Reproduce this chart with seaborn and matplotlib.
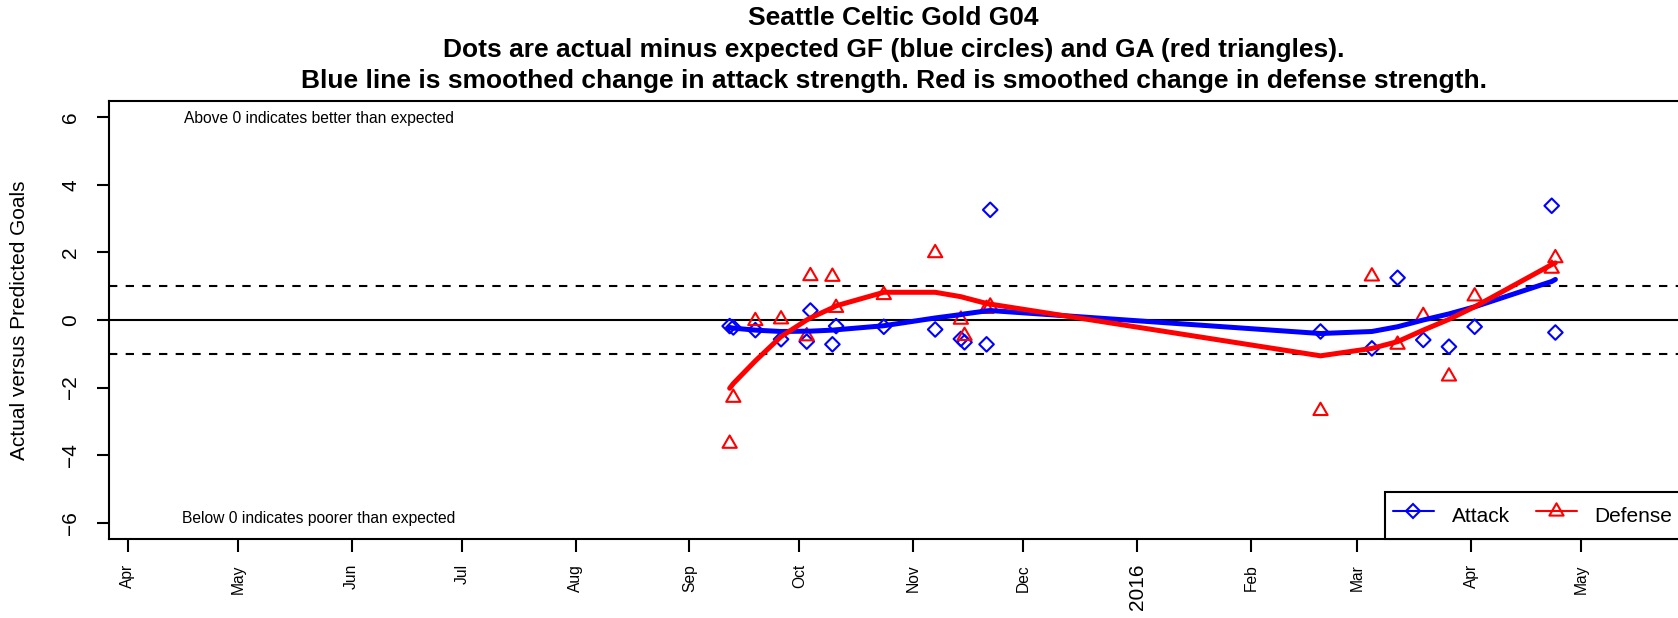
import numpy as np
import pandas as pd
import matplotlib
matplotlib.use("Agg")
import matplotlib.pyplot as plt
import seaborn as sns
from matplotlib.lines import Line2D
from matplotlib.path import Path

# games (weekend dates of the 2015/16 season)
game_dates = pd.to_datetime([
    "2015-09-12", "2015-09-13", "2015-09-19", "2015-09-26", "2015-10-03",
    "2015-10-04", "2015-10-10", "2015-10-11", "2015-10-24", "2015-11-07",
    "2015-11-14", "2015-11-15", "2015-11-21", "2015-11-22", "2016-02-20",
    "2016-03-05", "2016-03-12", "2016-03-19", "2016-03-26", "2016-04-02",
    "2016-04-23", "2016-04-24",
])
attack_resid = [-0.18, -0.22, -0.30, -0.57, -0.64, 0.28, -0.72, -0.18, -0.20, -0.28, -0.56,
                -0.66, -0.72, 3.26, -0.34, -0.84, 1.25, -0.59, -0.79, -0.20, 3.38, -0.37]
defense_resid = [-3.66, -2.30, -0.03, 0.02, -0.48, 1.30, 1.28, 0.36, 0.74, 1.98, 0.01,
                 -0.47, 0.33, 0.40, -2.69, 1.29, -0.73, 0.12, -1.67, 0.70, 1.52, 1.83]
attack_smooth = [-0.22, -0.24, -0.30, -0.34, -0.33, -0.33, -0.30, -0.29, -0.17, 0.06, 0.16,
                 0.18, 0.27, 0.28, -0.40, -0.34, -0.20, 0.00, 0.18, 0.39, 1.14, 1.20]
defense_smooth = [-2.02, -1.88, -1.21, -0.49, 0.00, 0.06, 0.36, 0.42, 0.82, 0.82, 0.69,
                  0.66, 0.49, 0.47, -1.06, -0.84, -0.64, -0.30, 0.02, 0.39, 1.64, 1.69]

month_ticks = pd.date_range("2015-04-01", "2016-05-01", freq="MS")
month_labels = ["Apr", "May", "Jun", "Jul", "Aug", "Sep", "Oct", "Nov", "Dec",
                "2016", "Feb", "Mar", "Apr", "May"]
y_ticks = [-6, -4, -2, 0, 2, 4, 6]

title_lines = [
    "Seattle Celtic Gold G04",
    "Dots are actual minus expected GF (blue circles) and GA (red triangles).",
    "Blue line is smoothed change in attack strength. Red is smoothed change in defense strength.",
]

df = pd.DataFrame({"date": game_dates, "attack": attack_resid, "defense": defense_resid,
                   "att_s": attack_smooth, "def_s": defense_smooth})

sns.set_style("ticks")
plt.rcParams["font.family"] = ["Liberation Sans", "DejaVu Sans"]
for key in ("text.color", "axes.labelcolor", "xtick.color", "ytick.color"):
    plt.rcParams[key] = "black"

W, H = 1678, 618
fig = plt.figure(figsize=(W / 100, H / 100), dpi=100)
ax = fig.add_axes([109.3 / W, 1 - 539 / H, (1680 - 109.3) / W, (539 - 101) / H])

# reference lines
ax.axhline(0, color="black", lw=1.5, zorder=1)
for yy in (1, -1):
    ax.axhline(yy, color="black", lw=1.5, ls=(0, (4, 4)), zorder=1)

# equilateral triangle like R's pch=2
tri = Path([(-1, -0.577), (1, -0.577), (0, 1.155), (0, 0)],
           [Path.MOVETO, Path.LINETO, Path.LINETO, Path.CLOSEPOLY])

sns.scatterplot(data=df, x="date", y="attack", marker="D", s=55, color="blue",
                facecolor="none", edgecolor="blue", linewidth=1.5, ax=ax, zorder=3)
sns.scatterplot(data=df, x="date", y="defense", marker=tri, s=140, color="red",
                facecolor="none", edgecolor="red", linewidth=1.5, ax=ax, zorder=3)
sns.lineplot(data=df, x="date", y="att_s", color="blue", lw=3.6, estimator=None,
             ax=ax, zorder=4)
sns.lineplot(data=df, x="date", y="def_s", color="red", lw=3.6, estimator=None,
             ax=ax, zorder=4)

ax.set_xlim(pd.Timestamp("2015-03-26 23:00"), pd.Timestamp("2016-05-27 23:00"))
ax.set_ylim(-6.48, 6.48)

ax.set_xticks(month_ticks)
ax.set_xticklabels(month_labels, rotation=90, ha="center", va="top")
for lab, txt in zip(ax.get_xticklabels(), month_labels):
    lab.set_fontsize(15 if txt == "2016" else 11.25)
ax.set_yticks(y_ticks)
ax.set_yticklabels([str(v).replace("-", "\u2212") for v in y_ticks], rotation=90,
                   va="center", fontsize=15)
ax.tick_params(axis="x", length=9, width=1.5, pad=9, color="black")
ax.tick_params(axis="y", length=9, width=1.5, pad=12, color="black")

for sp in ax.spines.values():
    sp.set_linewidth(1.5)
    sp.set_color("black")

ax.set_xlabel("")
ax.set_ylabel("Actual versus Predicted Goals", fontsize=15)
ax.yaxis.set_label_coords(29 / W, 0.5 * (1 - 539 / H + 1 - 101 / H),
                          transform=fig.transFigure)

ax.text(pd.Timestamp("2015-05-23"), 5.96, "Above 0 indicates better than expected",
        ha="center", va="center", fontsize=11.25)
ax.text(pd.Timestamp("2015-05-23"), -5.86, "Below 0 indicates poorer than expected",
        ha="center", va="center", fontsize=11.25)

handles = [
    Line2D([], [], color="blue", lw=1.5, marker="D", markersize=7.4,
           markerfacecolor="none", markeredgecolor="blue", markeredgewidth=1.5),
    Line2D([], [], color="red", lw=1.5, marker=tri, markersize=11.8,
           markerfacecolor="none", markeredgecolor="red", markeredgewidth=1.5),
]
leg = ax.legend(handles, ["Attack", "Defense"], loc="lower right", ncol=2,
                bbox_to_anchor=(1, 0), borderaxespad=0, fontsize=15, frameon=True,
                fancybox=False, edgecolor="black", borderpad=0.36, handlelength=1.97,
                handleheight=2.0, handletextpad=0.85, columnspacing=1.25)
leg.get_frame().set_linewidth(1.5)
leg.get_frame().set_alpha(1)

for txt, yy in zip(title_lines, [18.2, 50.3, 81.3]):
    fig.text((109.3 + 1678) / 2 / W, 1 - yy / H, txt, ha="center", va="center",
             fontsize=19, fontweight="bold", color="black")

fig.savefig("out.png", dpi=100)
